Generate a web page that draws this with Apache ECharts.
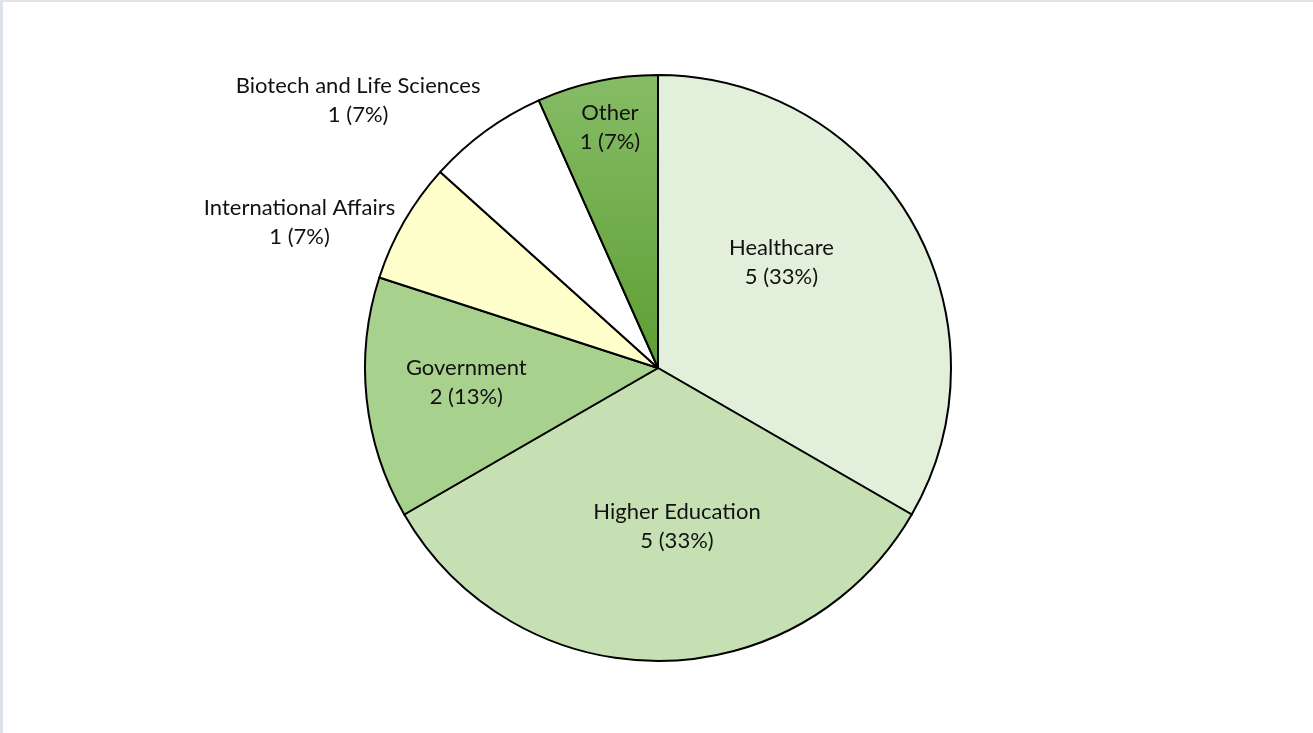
<!DOCTYPE html>
<html>
<head>
<meta charset="utf-8">
<script src="https://cdn.jsdelivr.net/npm/echarts@6/dist/echarts.min.js"></script>
<style>
html,body{margin:0;padding:0;background:#fff;}
#frame{position:absolute;left:0;top:0;width:1313px;height:733px;box-sizing:border-box;border-top:2px solid #E3E3E3;border-left:3px solid #DEE3EA;}
#chart{position:absolute;left:0;top:0;width:1313px;height:733px;}
</style>
</head>
<body>
<div id="frame"></div>
<div id="chart"></div>
<script>
const categories = ['Healthcare', 'Higher Education', 'Government', 'International Affairs', 'Biotech and Life Sciences', 'Other'];
const counts = [5, 5, 2, 1, 1, 1];

const colors = [
  '#E2EFDA', '#C6E0B4', '#A9D18E', '#FFFFCC', '#FFFFFF',
  new echarts.graphic.LinearGradient(0, 0, 0, 1, [
    { offset: 0, color: '#86BC66' },
    { offset: 1, color: '#5E9E33' }
  ])
];
// label nudges (dx, dy) relative to the default inside position
const labelNudge = [[-6, -31], [19, 9], [-43, -1], [-229, -71], [-212, -147], [-17, -94]];

const chart = echarts.init(document.getElementById('chart'));
chart.setOption({
  animation: false,
  series: [{
    type: 'pie',
    center: [658, 368],
    radius: [0, 293],
    startAngle: 90,
    clockwise: true,
    avoidLabelOverlap: false,
    itemStyle: { borderColor: '#000', borderWidth: 2 },
    label: {
      show: true,
      position: 'inside',
      color: '#111',
      fontFamily: 'Lato, "Open Sans", sans-serif',
      fontSize: 22,
      lineHeight: 29,
      align: 'center',
      formatter: function (p) { return p.name + '\n' + p.value + ' (' + Math.round(p.percent) + '%)'; }
    },
    labelLine: { show: false },
    emphasis: { disabled: true },
    labelLayout: function (p) {
      const n = labelNudge[p.dataIndex];
      return { dx: n[0], dy: n[1] };
    },
    data: categories.map((c, i) => ({ name: c, value: counts[i], itemStyle: { color: colors[i] } }))
  }]
});
</script>
</body>
</html>
